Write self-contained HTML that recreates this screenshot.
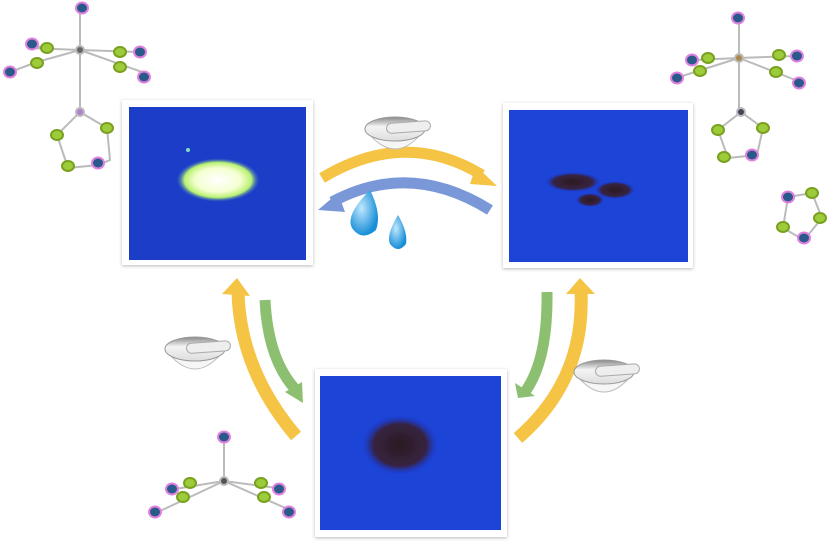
<!DOCTYPE html>
<html><head><meta charset="utf-8"><style>
html,body{margin:0;padding:0;background:#fff;width:831px;height:541px;overflow:hidden}
svg{display:block}
</style></head><body>
<svg width="831" height="541" viewBox="0 0 831 541">
<defs>
<radialGradient id="glow" cx="50%" cy="50%" r="50%">
<stop offset="0" stop-color="#ffffff"/><stop offset="0.55" stop-color="#f4ffd0"/><stop offset="0.8" stop-color="#b8f070"/><stop offset="1" stop-color="#2a60c8" stop-opacity="0"/>
</radialGradient>
<radialGradient id="dark" cx="50%" cy="50%" r="50%">
<stop offset="0" stop-color="#2a1a20"/><stop offset="0.7" stop-color="#3a2030" stop-opacity="0.9"/><stop offset="1" stop-color="#1a30c0" stop-opacity="0"/>
</radialGradient>
<radialGradient id="drop" cx="40%" cy="40%" r="60%"><stop offset="0" stop-color="#bfe8ff"/><stop offset="1" stop-color="#1a8fd8"/></radialGradient>
<linearGradient id="mortar" x1="0" y1="0" x2="0" y2="1"><stop offset="0" stop-color="#888"/><stop offset="0.4" stop-color="#f4f4f4"/><stop offset="1" stop-color="#ddd"/></linearGradient>
<filter id="sh"><feDropShadow dx="0" dy="1" stdDeviation="1.5" flood-color="#888" flood-opacity="0.6"/></filter>
<g id="mortarIcon">
<path d="M-30,-6 Q0,34 30,-6 Z" fill="#f6f6f6" stroke="#bbb"/>
<ellipse cx="0" cy="-6" rx="30" ry="12" fill="url(#mortar)" stroke="#999"/>
<rect x="-8" y="-12" width="44" height="10" rx="5" fill="#eee" stroke="#aaa" transform="rotate(-4)"/>
</g>
<g id="atomB"><ellipse rx="6" ry="5.5" fill="#2a5a8a" stroke="#e080e0" stroke-width="2"/></g>
<g id="atomG"><ellipse rx="6" ry="5" fill="#9ccc3a" stroke="#7aa020"/></g>
</defs>

<!-- photos -->
<g filter="url(#sh)">
<rect x="122" y="100" width="191" height="165" fill="#fff"/>
<rect x="129" y="107" width="177" height="153" fill="#1c3cc8"/>
<ellipse cx="218" cy="180" rx="42" ry="22" fill="url(#glow)"/>
<circle cx="188" cy="150" r="2" fill="#80e0c0"/>
</g>
<g filter="url(#sh)">
<rect x="503" y="103" width="190" height="165" fill="#fff"/>
<rect x="509" y="110" width="179" height="152" fill="#1e44d8"/>
<ellipse cx="573" cy="182" rx="28" ry="10" fill="url(#dark)"/>
<ellipse cx="615" cy="190" rx="20" ry="9" fill="url(#dark)"/>
<ellipse cx="590" cy="200" rx="14" ry="7" fill="url(#dark)"/>
</g>
<g filter="url(#sh)">
<rect x="315" y="369" width="192" height="168" fill="#fff"/>
<rect x="320" y="376" width="181" height="154" fill="#1e44d8"/>
<ellipse cx="400" cy="445" rx="38" ry="30" fill="url(#dark)"/>
</g>

<!-- top arrows -->
<g>
<path d="M322,178 Q405,128 482,175" fill="none" stroke="#f5c444" stroke-width="11"/>
<path d="M476,166 L497,186 L470,184 Z" fill="#f5c444"/>
</g>
<g>
<path d="M490,210 Q410,160 332,202" fill="none" stroke="#7a98d8" stroke-width="11"/>
<path d="M338,193 L318,210 L345,212 Z" fill="#7a98d8"/>
</g>
<use href="#mortarIcon" x="395" y="135"/>
<g>
<path d="M370,190 Q345,215 352,228 Q362,242 376,230 Q382,214 370,190 Z" fill="url(#drop)"/>
<path d="M398,215 Q386,235 390,244 Q398,254 406,244 Q408,232 398,215 Z" fill="url(#drop)"/>
</g>

<!-- left arrows -->
<g>
<path d="M296,436 Q240,370 238,292" fill="none" stroke="#f5c444" stroke-width="13"/>
<path d="M222,294 L237,278 L250,296 Z" fill="#f5c444"/>
</g>
<g>
<path d="M265,300 Q268,360 296,390" fill="none" stroke="#8cc070" stroke-width="11"/>
<path d="M285,392 L303,403 L302,382 Z" fill="#8cc070"/>
</g>
<use href="#mortarIcon" x="195" y="355"/>

<!-- right arrows -->
<g>
<path d="M518,438 Q585,380 581,292" fill="none" stroke="#f5c444" stroke-width="13"/>
<path d="M566,294 L580,278 L595,294 Z" fill="#f5c444"/>
</g>
<g>
<path d="M547,292 Q548,360 525,392" fill="none" stroke="#8cc070" stroke-width="11"/>
<path d="M515,383 L518,398 L535,396 Z" fill="#8cc070"/>
</g>
<use href="#mortarIcon" x="604" y="378"/>

<!-- molecules -->
<g stroke="#bbb" stroke-width="2">
<line x1="80" y1="8" x2="80" y2="110"/><line x1="80" y1="50" x2="30" y2="48"/><line x1="80" y1="50" x2="37" y2="62"/><line x1="80" y1="50" x2="138" y2="52"/><line x1="80" y1="50" x2="142" y2="72"/>
<line x1="45" y1="48" x2="30" y2="45"/><line x1="37" y1="62" x2="10" y2="72"/>
<polyline points="80,112 107,128 110,160 98,165 68,168 57,135 80,112" fill="none"/>
<use href="#atomB" x="82" y="8"/><use href="#atomB" x="32" y="44"/><use href="#atomB" x="10" y="72"/><use href="#atomB" x="140" y="52"/><use href="#atomB" x="144" y="77"/>
<use href="#atomG" x="47" y="48"/><use href="#atomG" x="37" y="63"/><use href="#atomG" x="120" y="52"/><use href="#atomG" x="120" y="67"/>
<circle cx="80" cy="50" r="4" fill="#666"/><circle cx="80" cy="112" r="4" fill="#b080d0"/>
<use href="#atomG" x="107" y="128"/><use href="#atomG" x="57" y="135"/><use href="#atomG" x="68" y="166"/><use href="#atomB" x="98" y="163"/>
</g>
<g stroke="#bbb" stroke-width="2">
<line x1="739" y1="18" x2="739" y2="112"/><line x1="739" y1="58" x2="676" y2="78"/><line x1="739" y1="58" x2="694" y2="60"/><line x1="739" y1="58" x2="795" y2="56"/><line x1="739" y1="58" x2="798" y2="81"/>
<polyline points="741,112 763,128 757,155 728,158 718,130 741,112" fill="none"/>
<use href="#atomB" x="738" y="18"/><use href="#atomB" x="692" y="60"/><use href="#atomB" x="677" y="78"/><use href="#atomB" x="797" y="56"/><use href="#atomB" x="799" y="83"/>
<use href="#atomG" x="708" y="58"/><use href="#atomG" x="700" y="71"/><use href="#atomG" x="779" y="55"/><use href="#atomG" x="776" y="72"/>
<circle cx="739" cy="58" r="4" fill="#aa8850"/><circle cx="741" cy="112" r="4" fill="#445"/>
<use href="#atomG" x="763" y="128"/><use href="#atomG" x="718" y="130"/><use href="#atomG" x="724" y="157"/><use href="#atomB" x="752" y="155"/>
</g>
<g stroke="#bbb" stroke-width="2">
<polyline points="788,197 812,193 822,218 804,240 783,228 788,197" fill="none"/>
<use href="#atomB" x="788" y="197"/><use href="#atomG" x="812" y="193"/><use href="#atomG" x="820" y="218"/><use href="#atomB" x="804" y="238"/><use href="#atomG" x="783" y="227"/>
</g>
<g stroke="#bbb" stroke-width="2">
<line x1="224" y1="437" x2="224" y2="481"/><line x1="224" y1="481" x2="158" y2="512"/><line x1="224" y1="481" x2="175" y2="489"/><line x1="224" y1="481" x2="290" y2="510"/><line x1="224" y1="481" x2="277" y2="488"/>
<use href="#atomB" x="224" y="437"/><use href="#atomB" x="172" y="489"/><use href="#atomB" x="155" y="512"/><use href="#atomB" x="279" y="489"/><use href="#atomB" x="289" y="512"/>
<use href="#atomG" x="190" y="483"/><use href="#atomG" x="183" y="497"/><use href="#atomG" x="261" y="483"/><use href="#atomG" x="264" y="497"/>
<circle cx="224" cy="481" r="4" fill="#555"/>
</g>
</svg>
</body></html>
